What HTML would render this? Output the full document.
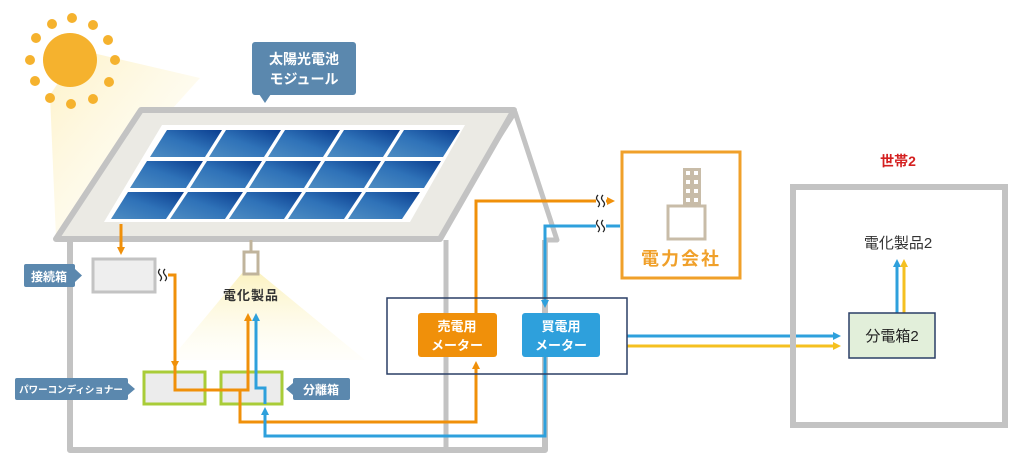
<!DOCTYPE html>
<html><head><meta charset="utf-8"><style>
html,body{margin:0;padding:0;background:#fff;}
svg{display:block;font-family:"Liberation Sans","Noto Sans CJK JP",sans-serif;}
</style></head><body>
<svg width="1024" height="464" viewBox="0 0 1024 464" xmlns="http://www.w3.org/2000/svg">
<defs>
<linearGradient id="beam" x1="0" y1="0" x2="1" y2="1">
<stop offset="0" stop-color="#fcecb0" stop-opacity="0.7"/><stop offset="1" stop-color="#fffbe8" stop-opacity="0.1"/>
</linearGradient>
<linearGradient id="cone" x1="0" y1="0" x2="0" y2="1">
<stop offset="0" stop-color="#fbf2c0"/><stop offset="1" stop-color="#fffdf2" stop-opacity="0.3"/>
</linearGradient>
<linearGradient id="cell" x1="0" y1="1" x2="1" y2="0">
<stop offset="0" stop-color="#4d8cc2"/><stop offset="0.5" stop-color="#2f72b8"/><stop offset="1" stop-color="#0a3d8f"/>
</linearGradient>
<marker id="ao" markerWidth="8" markerHeight="8" refX="5" refY="4" orient="auto" markerUnits="userSpaceOnUse"><path d="M0,0 L8,4 L0,8 z" fill="#f0900a"/></marker>
<marker id="ab" markerWidth="8" markerHeight="8" refX="5" refY="4" orient="auto" markerUnits="userSpaceOnUse"><path d="M0,0 L8,4 L0,8 z" fill="#2ea0dc"/></marker>
<marker id="ay" markerWidth="8" markerHeight="8" refX="5" refY="4" orient="auto" markerUnits="userSpaceOnUse"><path d="M0,0 L8,4 L0,8 z" fill="#f5c020"/></marker>
</defs>

<polygon points="80,50 200,78 56,238 50,95" fill="url(#beam)"/>
<circle cx="70" cy="60" r="27" fill="#f5b22e"/>
<g fill="#f5b22e">
<circle cx="115" cy="60" r="5"/><circle cx="109" cy="82" r="5"/><circle cx="93" cy="99" r="5"/><circle cx="71" cy="104" r="5"/><circle cx="50" cy="98" r="5"/><circle cx="35" cy="81" r="5"/><circle cx="30" cy="60" r="5"/><circle cx="36" cy="38" r="5"/><circle cx="52" cy="24" r="5"/><circle cx="72" cy="18" r="5"/><circle cx="93" cy="25" r="5"/><circle cx="108" cy="40" r="5"/>
</g>

<path d="M70,240 V450 H545 V240" fill="none" stroke="#c3c3c3" stroke-width="6" stroke-linejoin="round"/>
<line x1="446" y1="240" x2="446" y2="450" stroke="#c3c3c3" stroke-width="5"/>
<polyline points="433,240 515,112 557,240 545,240" fill="none" stroke="#c3c3c3" stroke-width="5" stroke-linejoin="round"/>
<polygon points="141,110 514,110 440,239 56,239" fill="#ebeae4" stroke="#c3c3c3" stroke-width="6" stroke-linejoin="round"/>
<polygon points="162,125 465,125 410,222 104,222" fill="#fff"/>
<g fill="url(#cell)">
<polygon points="167,130 222,130 205,157 150,157"/>
<polygon points="226,130 281,130 264,157 209,157"/>
<polygon points="285,130 340,130 323,157 268,157"/>
<polygon points="344,130 400,130 383,157 327,157"/>
<polygon points="404,130 460,130 443,157 387,157"/>
<polygon points="147,161 203,161 186,188 130,188"/>
<polygon points="207,161 262,161 245,188 190,188"/>
<polygon points="266,161 321,161 304,188 249,188"/>
<polygon points="325,161 381,161 364,188 308,188"/>
<polygon points="385,161 441,161 424,188 368,188"/>
<polygon points="128,192 184,192 166,219 111,219"/>
<polygon points="188,192 243,192 225,219 170,219"/>
<polygon points="247,192 302,192 284,219 229,219"/>
<polygon points="306,192 362,192 344,219 288,219"/>
<polygon points="366,192 420,192 402,219 348,219"/>
</g>

<rect x="252" y="42" width="104" height="53" rx="3" fill="#5b88ae"/>
<polygon points="259,94 271,94 265,103" fill="#5b88ae"/>
<text x="304" y="64" font-size="14" font-weight="bold" fill="#fff" text-anchor="middle">太陽光電池</text>
<text x="304" y="84" font-size="14" font-weight="bold" fill="#fff" text-anchor="middle">モジュール</text>

<polygon points="243,272 258,272 365,360 170,360" fill="url(#cone)"/>
<line x1="251" y1="240" x2="251" y2="252" stroke="#c0b49c" stroke-width="3"/>
<rect x="244" y="252" width="14" height="22" fill="#fff" stroke="#c0b49c" stroke-width="3"/>
<text x="251" y="300" font-size="13" font-weight="bold" fill="#333" text-anchor="middle" letter-spacing="1">電化製品</text>

<rect x="93" y="259" width="62" height="33" fill="#eeeeee" stroke="#c3c3c3" stroke-width="3"/>
<rect x="24" y="264" width="51" height="23" rx="2" fill="#5b88ae"/>
<polygon points="75,269 82,275.5 75,282" fill="#5b88ae"/>
<text x="49" y="281" font-size="12" font-weight="bold" fill="#fff" text-anchor="middle">接続箱</text>

<rect x="144" y="372" width="61" height="32" fill="#ececec" stroke="#a9cc38" stroke-width="3"/>
<rect x="221" y="372" width="61" height="32" fill="#ececec" stroke="#a9cc38" stroke-width="3"/>
<rect x="15" y="378" width="113" height="22" rx="2" fill="#5b88ae"/>
<polygon points="128,383 135,389 128,395" fill="#5b88ae"/>
<text x="71" y="393" font-size="9.5" font-weight="bold" fill="#fff" text-anchor="middle">パワーコンディショナー</text>
<rect x="293" y="378" width="57" height="22" rx="2" fill="#5b88ae"/>
<polygon points="293,383 286,389 293,395" fill="#5b88ae"/>
<text x="321" y="394" font-size="12" font-weight="bold" fill="#fff" text-anchor="middle">分離箱</text>

<g fill="none" stroke="#f0900a" stroke-width="3">
<line x1="121" y1="224" x2="121" y2="252" marker-end="url(#ao)"/>
<polyline points="168,275 175,275 175,366" marker-end="url(#ao)"/>
<polyline points="175,366 175,390 248,390 248,316" marker-end="url(#ao)"/>
<polyline points="240,390 240,422 476,422 476,364" marker-end="url(#ao)"/>
<polyline points="476,313 476,201 596,201"/>
<line x1="606" y1="201" x2="612" y2="201" marker-end="url(#ao)"/>
</g>
<g fill="none" stroke="#2ea0dc" stroke-width="3">
<polyline points="545,357 545,436 265,436 265,410" marker-end="url(#ab)"/>
<polyline points="265,404 265,388 256,388 256,316" marker-end="url(#ab)"/>
<line x1="620" y1="226" x2="606" y2="226"/>
<polyline points="596,226 545,226 545,305" marker-end="url(#ab)"/>
<line x1="627" y1="336" x2="838" y2="336" marker-end="url(#ab)"/>
<line x1="897" y1="313" x2="897" y2="262" marker-end="url(#ab)"/>
</g>
<g fill="none" stroke="#f5c020" stroke-width="3">
<line x1="627" y1="346" x2="838" y2="346" marker-end="url(#ay)"/>
<line x1="904" y1="313" x2="904" y2="262" marker-end="url(#ay)"/>
</g>
<!-- squiggles -->
<g fill="none" stroke="#222" stroke-width="1.3">
<path d="M160,269 q-3,3 0,6 q3,3 0,6"/><path d="M165,269 q-3,3 0,6 q3,3 0,6"/>
<path d="M598,195 q-3,3 0,6 q3,3 0,6"/><path d="M603,195 q-3,3 0,6 q3,3 0,6"/>
<path d="M598,220 q-3,3 0,6 q3,3 0,6"/><path d="M603,220 q-3,3 0,6 q3,3 0,6"/>
</g>

<rect x="387" y="298" width="240" height="76" fill="none" stroke="#2a3f66" stroke-width="1.5"/>
<rect x="418" y="313" width="79" height="44" rx="3" fill="#f0900a"/>
<text x="457" y="331" font-size="13" font-weight="bold" fill="#fff" text-anchor="middle">売電用</text>
<text x="457" y="350" font-size="13" font-weight="bold" fill="#fff" text-anchor="middle">メーター</text>
<rect x="522" y="313" width="78" height="44" rx="3" fill="#2ea0dc"/>
<text x="561" y="331" font-size="13" font-weight="bold" fill="#fff" text-anchor="middle">買電用</text>
<text x="561" y="350" font-size="13" font-weight="bold" fill="#fff" text-anchor="middle">メーター</text>

<rect x="622" y="152" width="118" height="126" fill="#fff" stroke="#f0a02a" stroke-width="3"/>
<rect x="683" y="168" width="18" height="38" fill="#c8bca8"/>
<g fill="#fff">
<rect x="686" y="171" width="4" height="4"/><rect x="694" y="171" width="4" height="4"/>
<rect x="686" y="180" width="4" height="4"/><rect x="694" y="180" width="4" height="4"/>
<rect x="686" y="189" width="4" height="4"/><rect x="694" y="189" width="4" height="4"/>
<rect x="686" y="198" width="4" height="4"/><rect x="694" y="198" width="4" height="4"/>
</g>
<rect x="668" y="206" width="37" height="33" fill="#fff" stroke="#c8bca8" stroke-width="3"/>
<text x="681" y="265" font-size="18" font-weight="bold" fill="#f0a02a" text-anchor="middle" letter-spacing="2">電力会社</text>

<text x="898" y="166" font-size="14" font-weight="bold" fill="#d42020" text-anchor="middle">世帯2</text>
<rect x="793" y="187" width="212" height="238" fill="none" stroke="#c3c3c3" stroke-width="6"/>
<text x="898" y="248" font-size="15" fill="#333" text-anchor="middle">電化製品2</text>
<rect x="849" y="313" width="86" height="45" fill="#e2efda" stroke="#2a3f66" stroke-width="1.5"/>
<text x="892" y="341" font-size="15" fill="#222" text-anchor="middle">分電箱2</text>
</svg>
</body></html>
